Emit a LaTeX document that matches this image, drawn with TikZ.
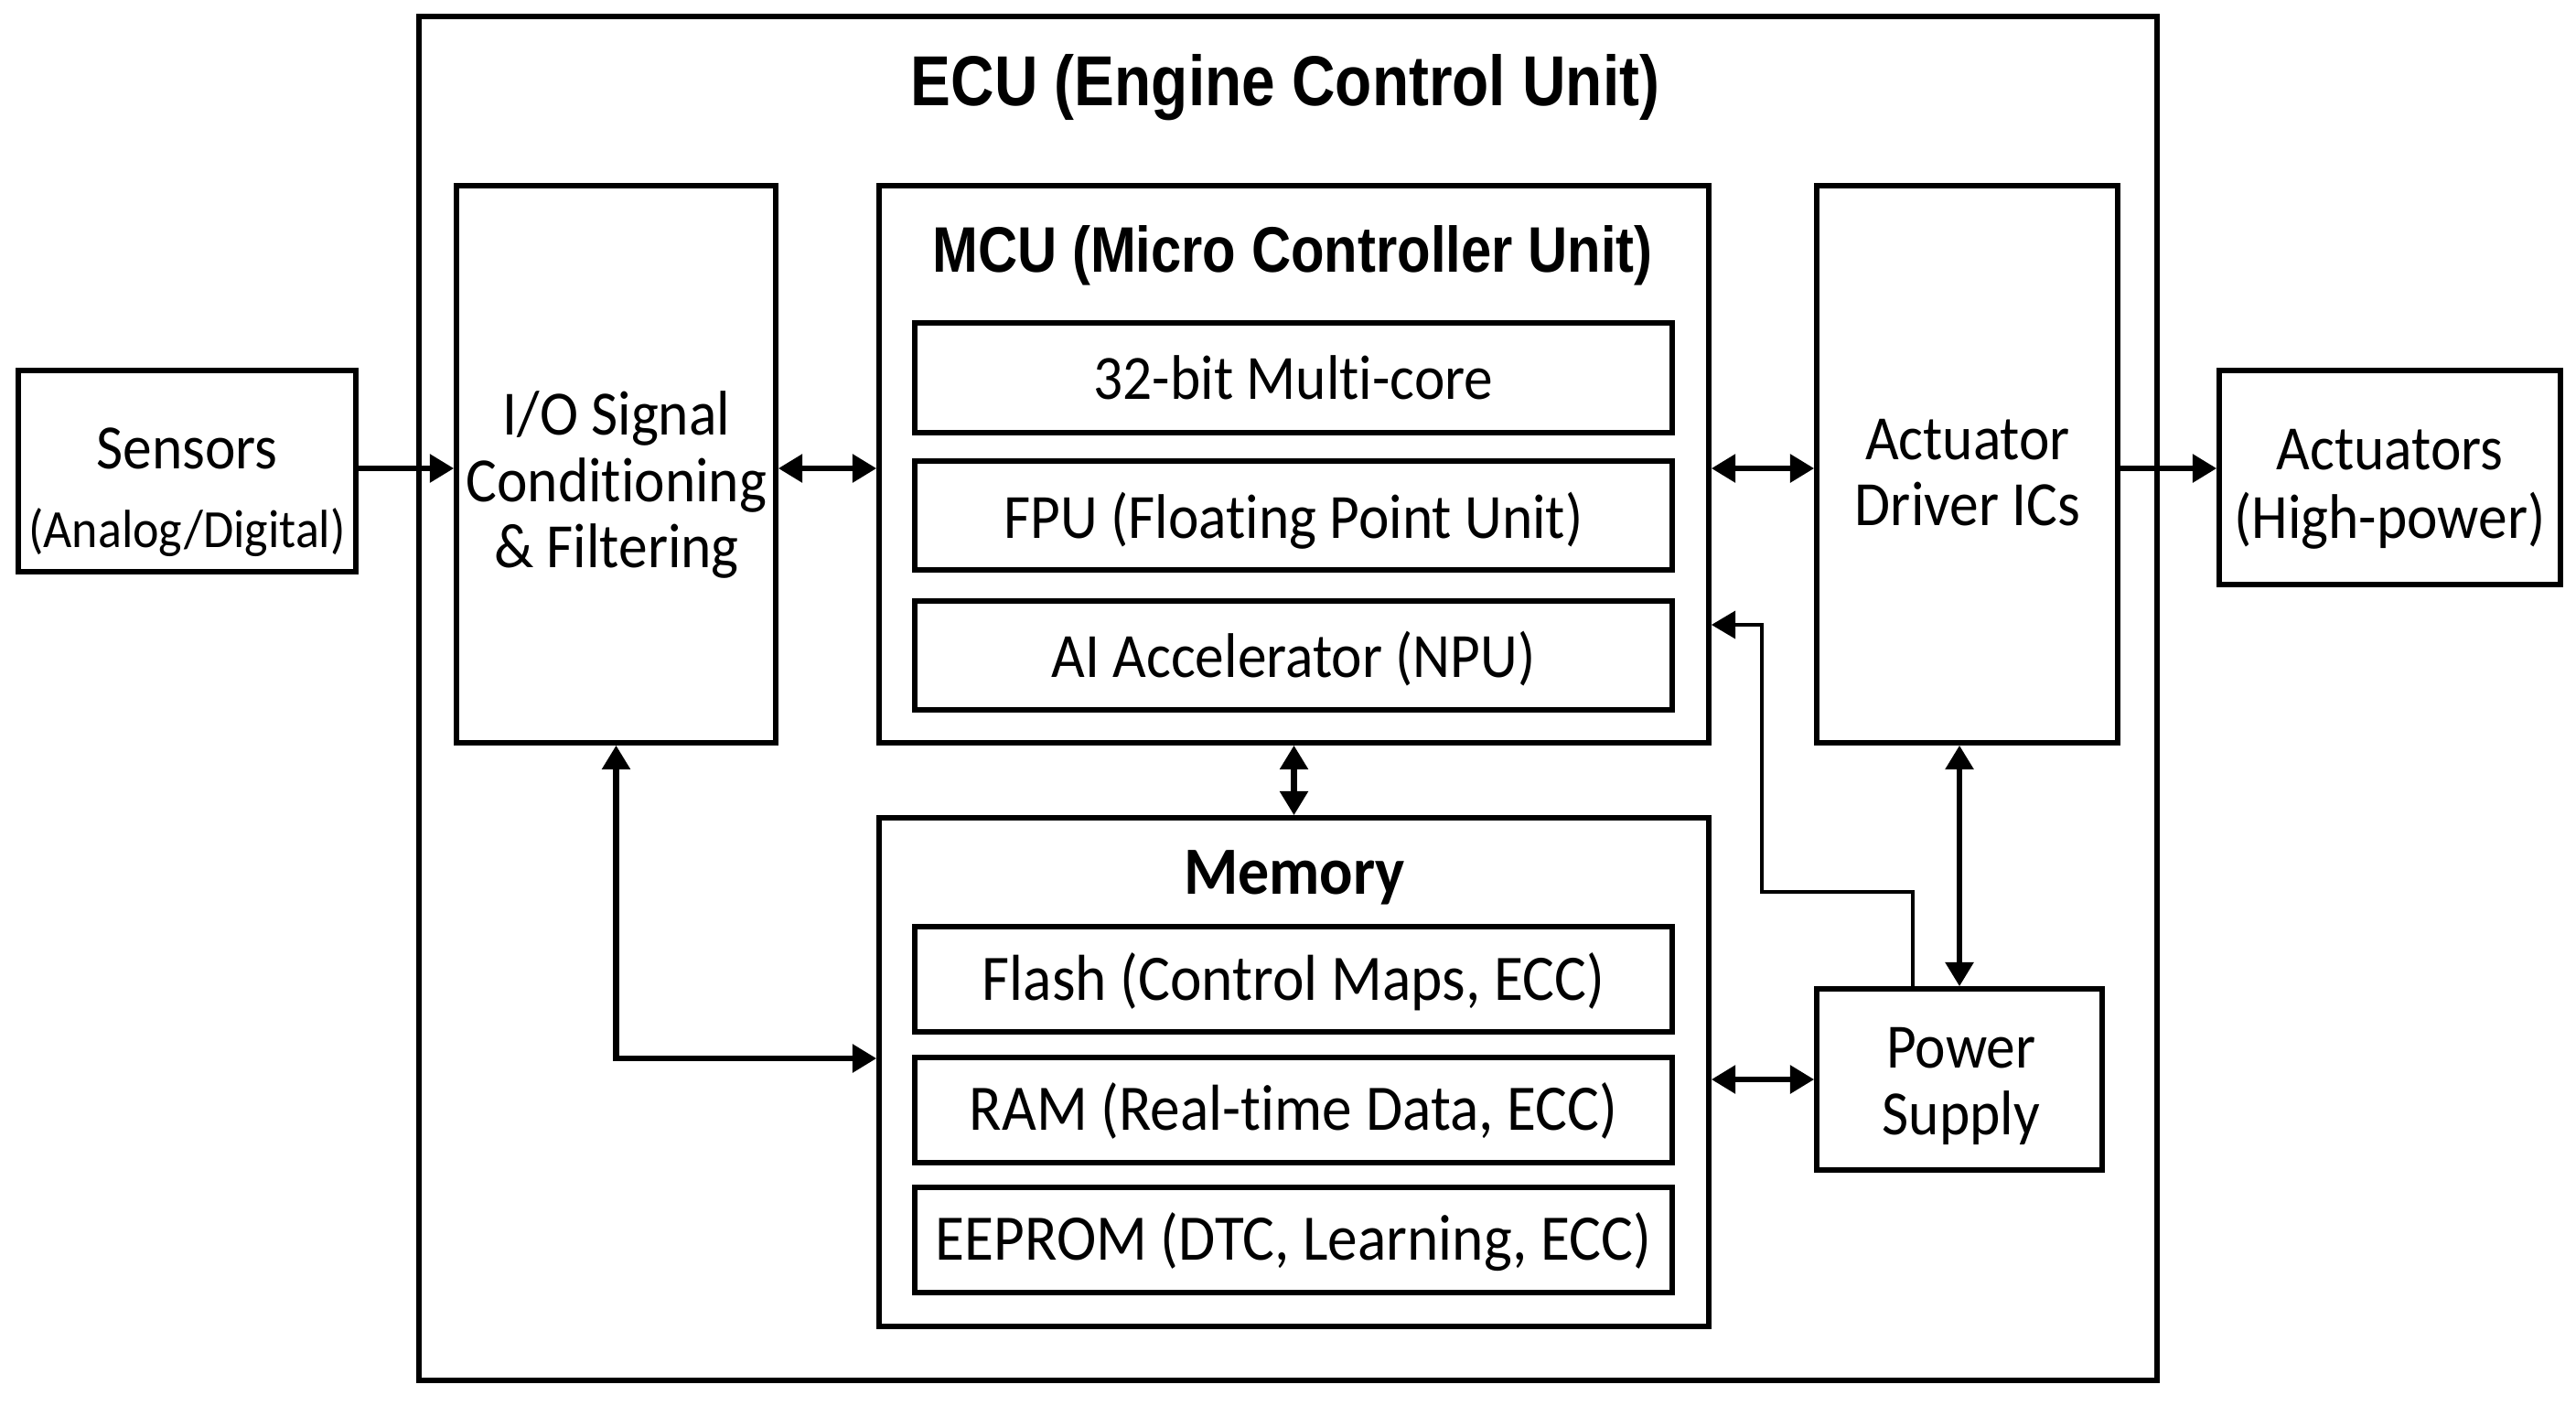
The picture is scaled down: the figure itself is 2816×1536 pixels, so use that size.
\documentclass[tikz,border=0pt]{standalone}
\usepackage{fontspec}
\setmainfont{Carlito}[FakeStretch=0.92,Ligatures=NoCommon]
\newfontfamily\titlefont{Liberation Sans}[FakeStretch=0.85]
\usetikzlibrary{arrows.meta,fit}
\begin{document}
\begin{tikzpicture}[x=0.01cm,y=-0.01cm,
  box/.style={draw=black,line width=1.6pt,inner sep=0pt},
  lbl/.style={anchor=base,inner sep=0pt,font=\fontsize{19.6}{22}\selectfont},
  memlbl/.style={anchor=base,inner sep=0pt,font=\fontsize{20.2}{23}\selectfont},
  small/.style={anchor=base,inner sep=0pt,font=\fontsize{16.7}{19}\selectfont},
  bigtitle/.style={anchor=base,inner sep=0pt,font=\titlefont\bfseries\fontsize{22}{26}\selectfont},
  midtitle/.style={anchor=base,inner sep=0pt,font=\titlefont\bfseries\fontsize{20}{24}\selectfont},
  memtitle/.style={anchor=base,inner sep=0pt,font=\bfseries\fontsize{21}{25}\selectfont},
  tip/.tip={Triangle[length=7.5pt,width=8.5pt]},
  arr/.style={line width=1.8pt,-tip},
  darr/.style={line width=1.8pt,tip-tip},
  thinarr/.style={line width=1.3pt,-tip},
]
\useasboundingbox[fill=white] (0,0) rectangle (2816,1536);

% outer ECU
\node[box,fit={(458,18) (2358,1509)}] (ecu) {};
\node[bigtitle] (ecuT) at (1405,115) {ECU (Engine Control Unit)};

% external boxes
\node[box,fit={(20,405) (389,625)}] (sens) {};
\node[lbl] (sensT1) at (204.5,512) {Sensors};
\node[small] (sensT2) at (204.5,598) {(Analog/Digital)};

\node[box,fit={(2426,405) (2799,639)}] (act) {};
\node[lbl] (actT1) at (2612.5,513) {Actuators};
\node[lbl] (actT2) at (2612.5,588) {(High-power)};

% I/O
\node[box,fit={(499,203) (848,812)}] (io) {};
\node[lbl] (ioT1) at (674,475) {I/O Signal};
\node[lbl] (ioT2) at (674,548) {Conditioning};
\node[lbl] (ioT3) at (674,620) {\& Filtering};

% MCU
\node[box,fit={(961,203) (1868,812)}] (mcu) {};
\node[midtitle] (mcuT) at (1413,297) {MCU (Micro Controller Unit)};
\node[box,fit={(1000,353) (1828,473)}] (core) {};
\node[lbl] (coreT) at (1414,436) {32-bit Multi-core};
\node[box,fit={(1000,504) (1828,623)}] (fpu) {};
\node[lbl] (fpuT) at (1414,588) {FPU (Floating Point Unit)};
\node[box,fit={(1000,657) (1828,776)}] (npu) {};
\node[lbl] (npuT) at (1414,740) {AI Accelerator (NPU)};

% Memory
\node[box,fit={(961,894) (1868,1450)}] (mem) {};
\node[memtitle] (memT) at (1415,977) {Memory};
\node[box,fit={(1000,1013) (1828,1128)}] (flash) {};
\node[memlbl] (flashT) at (1414,1093) {Flash (Control Maps, ECC)};
\node[box,fit={(1000,1156) (1828,1271)}] (ram) {};
\node[memlbl] (ramT) at (1414,1235) {RAM (Real-time Data, ECC)};
\node[box,fit={(1000,1298) (1828,1413)}] (eeprom) {};
\node[memlbl] (eepromT) at (1414,1377) {EEPROM (DTC, Learning, ECC)};

% Actuator driver
\node[box,fit={(1986,203) (2315,812)}] (drv) {};
\node[lbl] (drvT1) at (2151,502) {Actuator};
\node[lbl] (drvT2) at (2151,574) {Driver ICs};

% Power supply
\node[box,fit={(1986,1081) (2298,1279)}] (psu) {};
\node[lbl] (psuT1) at (2144,1167) {Power};
\node[lbl] (psuT2) at (2144,1240) {Supply};

% helper coordinates
\coordinate (row) at (0,512);
\coordinate (yram) at (0,1157);
\coordinate (pA) at (2091,975);
\coordinate (pB) at (1926,683);

% connectors
\draw[arr] (sens.east |- row) -- (io.west |- row);
\draw[darr] (io.east |- row) -- (mcu.west |- row);
\draw[darr] (mcu.east |- row) -- (drv.west |- row);
\draw[arr] (drv.east |- row) -- (act.west |- row);
\draw[darr] (mcu.south) -- (mem.north);
\draw[darr] (io.south) -- (io.south |- yram) -- (mem.west |- yram);
\draw[darr] (psu.north |- drv.south) -- (psu.north);
\draw[darr] (mem.east |- psu.west) -- (psu.west);
\draw[thinarr] (psu.north -| pA) -- (pA) -| (pB) -- (mcu.east |- pB);
\end{tikzpicture}
\end{document}
